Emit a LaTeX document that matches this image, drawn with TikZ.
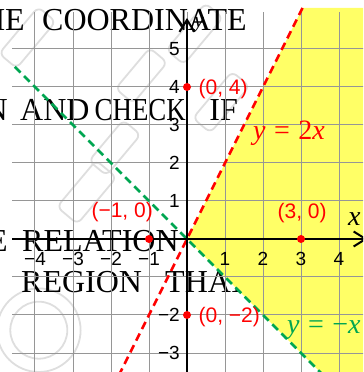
\documentclass[tikz,border=0pt]{standalone}
\usepackage{fontspec}
\setmainfont{Liberation Serif}
\newfontfamily\lsans{Liberation Sans}
\usetikzlibrary{arrows.meta}
\definecolor{grd}{RGB}{150,150,150}
\definecolor{ylw}{RGB}{255,255,102}
\definecolor{grn}{RGB}{0,166,81}
\definecolor{wm}{RGB}{222,222,222}
\tikzset{
  bgtext/.style={inner sep=0pt, font=\fontsize{32}{34}\selectfont},
  ticklab/.style={inner sep=0pt, font=\lsans\fontsize{19}{20}\selectfont},
  ptlab/.style={inner sep=0pt, text=red, font=\lsans\fontsize{21}{22}\selectfont},
  eqlab/.style={inner sep=0pt, font=\fontsize{28}{30}\selectfont},
  axlab/.style={inner sep=0pt},
  reddot/.style={circle, fill=red, inner sep=0pt, minimum size=8pt},
  dashline/.style={line width=2.5pt, dash pattern=on 8pt off 5pt},
  axisline/.style={line width=2pt, black, -{Straight Barb[length=12pt,width=15pt]}},
  gridline/.style={grd, line width=1pt},
  wmark/.style={wm, line width=1.8pt, rounded corners=6pt}
}
\begin{document}
\begin{tikzpicture}[x=38pt,y=38pt]
\useasboundingbox (-4.921,-3.5) rectangle (4.632,6.289);
\clip (-4.921,-3.5) rectangle (4.632,6.289);
% watermark (faint outlines)
\begin{scope}[wmark]
  \draw[rotate around={50:(-4.2,5.3)}] (-5.0,5.0) rectangle (-3.4,5.6);
  \draw[rotate around={50:(-2.6,1.2)}] (-3.4,0.9) rectangle (-1.8,1.6);
  \draw[rotate around={50:(-1.9,2.4)}] (-2.6,2.1) rectangle (-1.2,2.7);
  \draw[rotate around={50:(0.9,3.6)}] (0.1,3.3) rectangle (1.7,3.9);
  \draw[rotate around={50:(0.2,5.4)}] (-0.6,5.1) rectangle (1.0,5.7);
  \draw[rotate around={50:(-1.2,4.3)}] (-1.9,4.0) rectangle (-0.5,4.6);
  \draw (-3.9,-2.4) circle (1.1);
  \draw (-3.9,-2.4) circle (0.75);
\end{scope}
% background text
\node[bgtext, anchor=base east] (t1a) at (-4.263,5.474) {HE};
\node[bgtext, anchor=base west] (t1b) at (-3.816,5.474) {COORDINATE};
\node[bgtext, anchor=base east] (t2a) at (-4.711,3.105) {N};
\node[bgtext, anchor=base west] (t2b) at (-4.395,3.105) {AND};
\node[bgtext, anchor=base east] (t2c) at (-0.026,3.105) {\scalebox{0.84}[1]{CHECK}};
\node[bgtext, anchor=base east] (t2d) at (1.342,3.105) {IF};
\node[bgtext, anchor=base east] (t3a) at (-4.711,-0.316) {E};
\node[bgtext, anchor=base west] (t3b) at (-4.342,-0.316) {RELATION};
\node[bgtext, anchor=base west] (t4a) at (-4.368,-1.395) {REGION};
\node[bgtext, anchor=base west] (t4b) at (-0.579,-1.395) {THAT};
% shaded region
\fill[ylw] (3.04,6.08) -- (0,0) -- (3.7,-3.7) -- (4.8,-3.7) -- (4.8,6.08) -- cycle;
% grid
\draw[gridline, step=1] (-4.6,-3.7) grid (4.8,5.97);
% boundary lines
\coordinate (rt) at (3.04,6.08);
\coordinate (rb) at (-1.85,-3.7);
\coordinate (gt) at (-4.53,4.53);
\coordinate (gb) at (3.7,-3.7);
\draw[dashline, red] (rt) -- (rb);
\draw[dashline, grn] (gt) -- (gb);
% axes
\coordinate (xl) at (-4.6,0);
\coordinate (xr) at (4.75,0);
\coordinate (yb) at (0,-3.7);
\coordinate (yt) at (0,5.816);
\draw[axisline] (xl) -- (xr);
\draw[axisline] (yb) -- (yt);
\node[axlab, anchor=base west, font=\fontsize{28}{30}\selectfont\itshape] (xlab) at (4.237,0.368) {x};
\node[axlab, anchor=base west, font=\fontsize{22}{24}\selectfont\itshape] (ylab) at (0.184,5.553) {y};
% tick labels
\foreach \v/\t in {-4/−4,-3/−3,-2/−2,-1/−1,1/1,2/2,3/3,4/4}
  \node[ticklab, anchor=north] (xt\v) at (\v,-0.342) {\t};
\foreach \v/\t in {-3/−3,-2/−2,1/1,2/2,3/3,4/4,5/5}
  \node[ticklab, anchor=east] (yt\v) at (-0.184,\v) {\t};
% points
\node[reddot] (p04) at (0,4) {};
\node[reddot] (pm10) at (-1,0) {};
\node[reddot] (p30) at (3,0) {};
\node[reddot] (p0m2) at (0,-2) {};
\node[ptlab, anchor=west] (l04) at (0.3,3.947) {(0, 4)};
\node[ptlab, anchor=east] (lm10) at (-0.895,0.711) {(−1, 0)};
\node[ptlab] (l30) at (3.03,0.684) {(3, 0)};
\node[ptlab, anchor=west] (l0m2) at (0.3,-2.053) {(0, −2)};
% equations
\node[eqlab, text=red, anchor=base west] (eq1) at (1.737,2.605) {\textit{y}\hspace{0.3em}=\hspace{0.3em}2\textit{x}};
\node[eqlab, text=grn, anchor=base west] (eq2) at (2.632,-2.5) {\textit{y}\hspace{0.3em}=\hspace{0.3em}−\textit{x}};
\end{tikzpicture}
\end{document}
